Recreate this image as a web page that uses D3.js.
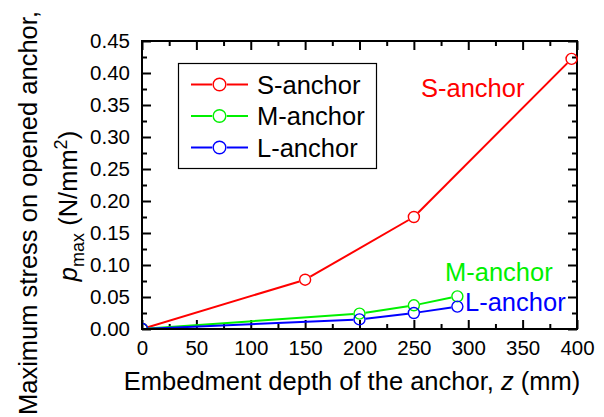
<!DOCTYPE html>
<html>
<head>
<meta charset="utf-8">
<script src="https://cdn.jsdelivr.net/npm/d3@7"></script>
<style>
  html, body { margin: 0; padding: 0; background: #fff; }
  svg { display: block; font-family: "Liberation Sans", Arial, Helvetica, sans-serif; }
</style>
</head>
<body>
<svg id="chart" width="604" height="417"></svg>
<script>
// Embedment depth (mm) and peak stress on the opened anchor (N/mm^2)
const depthS = [0, 150, 250, 395];
const stressS = [0, 0.077, 0.175, 0.422];
const depthM = [0, 200, 250, 290];
const stressM = [0, 0.024, 0.037, 0.051];
const depthL = [0, 200, 250, 290];
const stressL = [0, 0.015, 0.025, 0.035];

const seriesNames = ["S-anchor", "M-anchor", "L-anchor"];
const seriesColors = ["#ff0000", "#00f000", "#0000ff"];

const xTicks = [0, 50, 100, 150, 200, 250, 300, 350, 400];
const xMinor = [25, 75, 125, 175, 225, 275, 325, 375];
const yTicks = [0, 0.05, 0.10, 0.15, 0.20, 0.25, 0.30, 0.35, 0.40, 0.45];
const yMinor = [0.025, 0.075, 0.125, 0.175, 0.225, 0.275, 0.325, 0.375, 0.425];

const svg = d3.select("#chart");
const W = 604, H = 417;
const plot = { left: 142, right: 577, top: 41, bottom: 329 };

svg.append("rect").attr("width", W).attr("height", H).attr("fill", "#fff");

const x = d3.scaleLinear().domain([0, 400]).range([plot.left, plot.right]);
const y = d3.scaleLinear().domain([0, 0.45]).range([plot.bottom, plot.top]);

const MAJ = 9, MIN = 5;
const tickFont = "20.5px";
const bigFont = "25.5px";

function styleAxis(g) {
  g.select(".domain").remove();
  g.selectAll(".tick line").attr("stroke", "#000").attr("stroke-width", 2);
  g.selectAll(".tick text").attr("fill", "#000").style("font-size", tickFont)
    .style("font-family", '"Liberation Sans", Arial, sans-serif');
}

// bottom axis (labelled), ticks point inward
const gx = svg.append("g").attr("transform", `translate(0,${plot.bottom})`)
  .call(d3.axisBottom(x).tickValues(xTicks).tickFormat(d3.format("d"))
    .tickSize(-MAJ).tickPadding(11));
styleAxis(gx);
svg.append("g").attr("transform", `translate(0,${plot.bottom})`)
  .call(d3.axisBottom(x).tickValues(xMinor).tickFormat("").tickSize(-MIN))
  .call(styleAxis);

// top axis, ticks only
svg.append("g").attr("transform", `translate(0,${plot.top})`)
  .call(d3.axisTop(x).tickValues(xTicks).tickFormat("").tickSize(-MAJ)).call(styleAxis);
svg.append("g").attr("transform", `translate(0,${plot.top})`)
  .call(d3.axisTop(x).tickValues(xMinor).tickFormat("").tickSize(-MIN)).call(styleAxis);

// left axis (labelled)
const gy = svg.append("g").attr("transform", `translate(${plot.left},0)`)
  .call(d3.axisLeft(y).tickValues(yTicks).tickFormat(d3.format(".2f"))
    .tickSize(-MAJ).tickPadding(12));
styleAxis(gy);
svg.append("g").attr("transform", `translate(${plot.left},0)`)
  .call(d3.axisLeft(y).tickValues(yMinor).tickFormat("").tickSize(-MIN)).call(styleAxis);

// right axis, ticks only
svg.append("g").attr("transform", `translate(${plot.right},0)`)
  .call(d3.axisRight(y).tickValues(yTicks).tickFormat("").tickSize(-MAJ)).call(styleAxis);
svg.append("g").attr("transform", `translate(${plot.right},0)`)
  .call(d3.axisRight(y).tickValues(yMinor).tickFormat("").tickSize(-MIN)).call(styleAxis);

// frame
svg.append("rect")
  .attr("x", plot.left).attr("y", plot.top)
  .attr("width", plot.right - plot.left).attr("height", plot.bottom - plot.top)
  .attr("fill", "none").attr("stroke", "#000").attr("stroke-width", 2);

// clip for markers and lines
svg.append("clipPath").attr("id", "plotClip").append("rect")
  .attr("x", plot.left + 1).attr("y", plot.top).attr("width", plot.right - plot.left + 8)
  .attr("height", plot.bottom - plot.top - 1);

const R = 5.5;
const gap = R + 0.5;
const series = [
  { xs: depthS, ys: stressS },
  { xs: depthM, ys: stressM },
  { xs: depthL, ys: stressL }
];

const gData = svg.append("g").attr("clip-path", "url(#plotClip)");
series.forEach((s, i) => {
  const pts = s.xs.map((d, k) => [x(d), y(s.ys[k])]);
  const segs = [];
  for (let k = 0; k < pts.length - 1; k++) {
    const [x0, y0] = pts[k], [x1, y1] = pts[k + 1];
    const len = Math.hypot(x1 - x0, y1 - y0);
    if (len <= 2 * gap) continue;
    const ux = (x1 - x0) / len, uy = (y1 - y0) / len;
    segs.push([[x0 + ux * gap, y0 + uy * gap], [x1 - ux * gap, y1 - uy * gap]]);
  }
  gData.selectAll(null).data(segs).enter().append("line")
    .attr("x1", d => d[0][0]).attr("y1", d => d[0][1])
    .attr("x2", d => d[1][0]).attr("y2", d => d[1][1])
    .attr("stroke", seriesColors[i]).attr("stroke-width", 2);
});
series.forEach((s, i) => {
  gData.selectAll(null).data(s.xs.map((d, k) => [d, s.ys[k]])).enter().append("circle")
    .attr("cx", d => x(d[0])).attr("cy", d => y(d[1])).attr("r", R)
    .attr("fill", "none").attr("stroke", seriesColors[i]).attr("stroke-width", 1.4);
});

// in-plot series labels
const inLabels = [
  { text: "S-anchor", px: 421, py: 97 },
  { text: "M-anchor", px: 445, py: 281 },
  { text: "L-anchor", px: 465, py: 311 }
];
inLabels.forEach((l, i) => {
  svg.append("text").attr("x", l.px).attr("y", l.py)
    .attr("fill", seriesColors[i]).style("font-size", bigFont).text(l.text);
});

// legend
const lg = svg.append("g");
lg.append("rect").attr("x", 178.5).attr("y", 63.5).attr("width", 198).attr("height", 105)
  .attr("fill", "#fff").attr("stroke", "#000").attr("stroke-width", 1.2);
const legRows = [84.5, 116, 147.5];
seriesNames.forEach((name, i) => {
  const cy = legRows[i], cx = 219.5, LR = 6.3;
  lg.append("line").attr("x1", 191).attr("x2", cx - LR - 1).attr("y1", cy).attr("y2", cy)
    .attr("stroke", seriesColors[i]).attr("stroke-width", 2);
  lg.append("line").attr("x1", cx + LR + 1).attr("x2", 248).attr("y1", cy).attr("y2", cy)
    .attr("stroke", seriesColors[i]).attr("stroke-width", 2);
  lg.append("circle").attr("cx", cx).attr("cy", cy).attr("r", LR)
    .attr("fill", "none").attr("stroke", seriesColors[i]).attr("stroke-width", 1.4);
  lg.append("text").attr("x", 257).attr("y", cy + 9).attr("fill", "#000")
    .style("font-size", bigFont).text(name);
});

// axis titles
const xt = svg.append("text").attr("x", 352).attr("y", 390).attr("text-anchor", "middle")
  .attr("fill", "#000").style("font-size", bigFont);
xt.append("tspan").text("Embedment depth of the anchor, ");
xt.append("tspan").style("font-style", "italic").text("z");
xt.append("tspan").text(" (mm)");

const yt = svg.append("g").attr("transform", "translate(37,213) rotate(-90)");
yt.append("text").attr("x", 0).attr("y", 0).attr("text-anchor", "middle")
  .attr("fill", "#000").style("font-size", bigFont).text("Maximum stress on opened anchor,");
const yt2 = yt.append("text").attr("x", 7).attr("y", 40).attr("text-anchor", "middle")
  .attr("fill", "#000").style("font-size", bigFont);
yt2.append("tspan").style("font-style", "italic").text("p");
yt2.append("tspan").attr("dy", 7).style("font-size", "18px").text("max");
yt2.append("tspan").attr("dy", -7).text(" (N/mm");
yt2.append("tspan").attr("dy", -10).style("font-size", "18px").text("2");
yt2.append("tspan").attr("dy", 10).text(")");
</script>
</body>
</html>
